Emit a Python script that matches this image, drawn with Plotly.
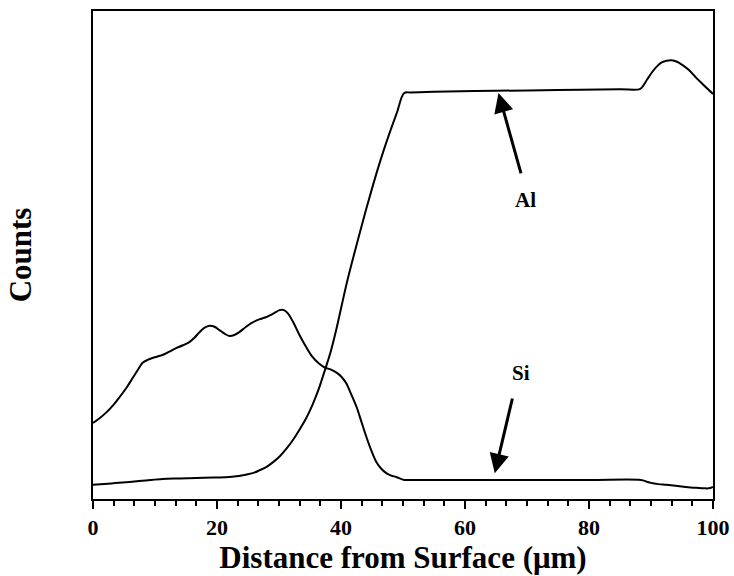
import plotly.graph_objects as go

# Al profile (distance in µm, counts in arbitrary units)
al_x = [0, 3, 5.9, 8.5, 11.2, 14, 16.7, 19.5, 22, 23.5, 24.7, 26, 26.9, 28, 29, 30.1, 31.2, 32.3, 33.3,
        34.4, 35.4, 36.4, 37.3, 38.3, 39.2, 40.1, 41, 42, 43, 44, 45, 46, 47, 48, 49, 50.2, 51.2, 55,
        65, 75, 85, 88.2, 88.7, 89.4, 90.2, 91, 91.8, 92.5, 93.3, 94.2, 95.1, 96.2, 97.3, 98.6, 100]
al_y = [2.9, 3.2, 3.5, 3.8, 4.1, 4.2, 4.3, 4.4, 4.5, 4.7, 5.0, 5.4, 5.9, 6.6, 7.5, 8.7, 10.3, 12.2, 14.2,
        16.6, 19.3, 22.5, 26.0, 30.0, 34.5, 39.6, 44.6, 49.6, 54.4, 59.1, 63.6, 67.9, 71.9, 75.6, 79.1, 83.2, 83.3, 83.45,
        83.65, 83.8, 83.95, 84.0, 84.6, 86.0, 87.5, 88.7, 89.5, 89.8, 89.9, 89.6, 88.9, 87.8, 86.3, 84.7, 83.0]

# Si profile
si_x = [0, 1, 2.2, 3.3, 4.3, 5.4, 6.4, 7.3, 8, 8.8, 9.6, 10.4, 11.2, 12.3, 13.4, 14.5, 15.6, 16.4, 17.2,
        18, 18.8, 19.6, 20.4, 21.2, 22, 22.8, 23.6, 24.6, 25.6, 26.8, 28, 29.1, 30.1, 30.8, 31.4,
        32.3, 33.3, 34.4, 35.4, 36.4, 37.3, 38.4, 39.4, 40.1, 40.8, 41.6, 42.5, 43.3, 44.1, 44.9,
        45.7, 46.5, 47.3, 48.1, 48.9, 50.2, 51.2, 60, 70, 80, 88.4, 89.2, 90, 91.2, 92.5, 94.3,
        96, 97.3, 98.5, 99.3, 100]
si_y = [15.6, 16.5, 17.8, 19.3, 20.9, 22.8, 24.8, 26.6, 27.9, 28.5, 28.9, 29.2, 29.5, 30.2, 30.9, 31.5, 32.2, 33.1, 34.2,
        35.1, 35.5, 35.3, 34.6, 33.9, 33.4, 33.6, 34.2, 35.2, 36.1, 36.8, 37.3, 38.0, 38.7, 38.7, 38.1,
        36.2, 33.6, 31.1, 29.1, 27.8, 27.0, 26.5, 25.8, 25.0, 23.8, 21.6, 18.9, 15.8, 12.7, 9.9,
        7.6, 6.2, 5.3, 4.8, 4.5, 3.9, 3.9, 3.9, 3.9, 3.9, 3.9, 3.6, 3.3, 3.05, 2.9, 2.65,
        2.4, 2.3, 2.2, 2.2, 2.5]

x_ticks = [0, 20, 40, 60, 80, 100]

font_family = "Liberation Serif, Times New Roman, serif"

fig = go.Figure()
fig.add_trace(go.Scatter(x=al_x, y=al_y, mode="lines", name="Al",
                         line=dict(color="black", width=2, shape="spline", smoothing=1.0)))
fig.add_trace(go.Scatter(x=si_x, y=si_y, mode="lines", name="Si",
                         line=dict(color="black", width=2, shape="spline", smoothing=1.0)))

# Labels with arrows
fig.add_annotation(x=65.4, y=83.2, ax=69.1, ay=66.4, axref="x", ayref="y", xref="x", yref="y",
                   showarrow=True, arrowhead=2, arrowsize=1.3, arrowwidth=3, arrowcolor="black", text="")
fig.add_annotation(x=69.8, y=61.3, xref="x", yref="y", text="Al", showarrow=False,
                   font=dict(family=font_family, size=21, color="black", weight="bold"))
fig.add_annotation(x=64.8, y=5.3, ax=67.7, ay=20.9, axref="x", ayref="y", xref="x", yref="y",
                   showarrow=True, arrowhead=2, arrowsize=1.3, arrowwidth=3, arrowcolor="black", text="")
fig.add_annotation(x=69.1, y=25.8, xref="x", yref="y", text="Si", showarrow=False,
                   font=dict(family=font_family, size=21, color="black", weight="bold"))

fig.update_layout(
    width=734, height=576,
    margin=dict(l=93, r=21, t=11, b=77),
    paper_bgcolor="white", plot_bgcolor="white",
    showlegend=False,
    font=dict(family=font_family, color="black"),
)
fig.update_xaxes(
    range=[0, 100], tickvals=x_ticks, ticktext=[str(v) for v in x_ticks],
    automargin=False,
    ticks="outside", ticklen=8, tickwidth=2, tickcolor="black",
    minor=dict(dtick=10/3, tick0=0, ticks="outside", ticklen=5, tickwidth=2, tickcolor="black"),
    showline=True, linewidth=2, linecolor="black", mirror=True,
    showgrid=False, zeroline=False,
    tickfont=dict(family=font_family, size=22, color="black", weight="bold"),
    title=dict(text="Distance from Surface (μm)", standoff=6,
               font=dict(family=font_family, size=31, color="black", weight="bold")),
)
fig.update_yaxes(
    range=[0, 100], showticklabels=False, ticks="",
    automargin=False,
    showline=True, linewidth=2, linecolor="black", mirror=True,
    showgrid=False, zeroline=False,
    title=dict(text="Counts", standoff=50,
               font=dict(family=font_family, size=31, color="black", weight="bold")),
)

fig.write_html("out.html")
